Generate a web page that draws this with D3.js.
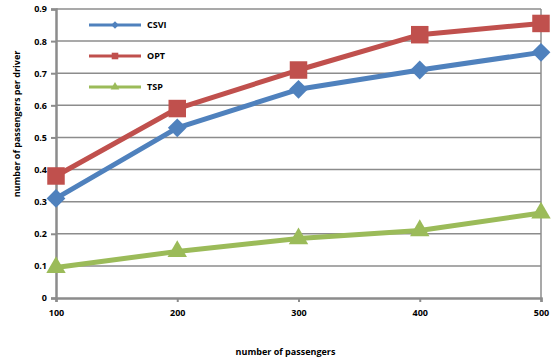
<!DOCTYPE html>
<html>
<head>
<meta charset="utf-8">
<script src="https://cdn.jsdelivr.net/npm/d3@7"></script>
<style>
  html, body { margin: 0; padding: 0; background: #fff; }
  svg { display: block; }
  text { font-family: "Open Sans", "Liberation Sans", sans-serif; font-weight: bold; fill: #000; }
</style>
</head>
<body>
<svg id="chart" width="553" height="362"></svg>
<script>
// Passenger counts on the x axis
const passengers = [100, 200, 300, 400, 500];
// Average passengers served per driver, one array per method
const csvi = [0.31, 0.53, 0.65, 0.71, 0.765];
const opt  = [0.38, 0.59, 0.71, 0.82, 0.855];
const tsp  = [0.095, 0.145, 0.185, 0.21, 0.265];
const seriesNames = ["CSVI", "OPT", "TSP"];
const yTicks = [0, 0.1, 0.2, 0.3, 0.4, 0.5, 0.6, 0.7, 0.8, 0.9];

const colors = { CSVI: "#4F81BD", OPT: "#C0504D", TSP: "#9BBB59" };
const symbols = { CSVI: d3.symbolDiamond2, OPT: d3.symbolSquare2, TSP: d3.symbolTriangle2 };
const markerSize = { CSVI: 225, OPT: 390, TSP: 270 };
const values = { CSVI: csvi, OPT: opt, TSP: tsp };

const svg = d3.select("#chart");
const plotLeft = 56, plotRight = 541, plotTop = 9, plotBottom = 298;

const x = d3.scaleLinear().domain([100, 500]).range([plotLeft, plotRight]);
const y = d3.scaleLinear().domain([0, 0.9]).range([plotBottom, plotTop]);

// Horizontal gridlines
svg.append("g").selectAll("line").data(yTicks.filter(d => d > 0)).join("line")
  .attr("x1", plotLeft).attr("x2", plotRight)
  .attr("y1", d => y(d)).attr("y2", d => y(d))
  .attr("stroke", "#8c8c8c").attr("stroke-width", 1.5);

// Right border of the plot area
svg.append("line").attr("x1", plotRight).attr("x2", plotRight).attr("y1", plotTop).attr("y2", plotBottom)
  .attr("stroke", "#8c8c8c").attr("stroke-width", 1.5);

// Y axis
const yAxis = svg.append("g").attr("transform", `translate(${plotLeft},0)`)
  .call(d3.axisLeft(y).tickValues(yTicks).tickFormat(d => d === 0 ? "0" : d3.format(".1f")(d)).tickSize(5).tickPadding(4));
// X axis
const xAxis = svg.append("g").attr("transform", `translate(0,${plotBottom})`)
  .call(d3.axisBottom(x).tickValues(passengers).tickSize(4).tickPadding(6));
[yAxis, xAxis].forEach(g => {
  g.select(".domain").attr("stroke", "#8c8c8c").attr("stroke-width", 2.5);
  g.selectAll(".tick line").attr("stroke", "#8c8c8c").attr("stroke-width", 2);
  g.selectAll(".tick text").style("font-family", "'Open Sans', sans-serif").style("font-weight", "bold")
    .style("font-size", "9px").attr("fill", "#000");
});
xAxis.selectAll(".tick text").attr("dy", "0.9em");

// Series lines and markers
const line = d3.line().x((d, i) => x(passengers[i])).y(d => y(d));
seriesNames.slice().reverse().forEach(name => {
  const g = svg.append("g");
  g.append("path").datum(values[name]).attr("d", line)
    .attr("fill", "none").attr("stroke", colors[name]).attr("stroke-width", 5)
    .attr("stroke-linejoin", "round");
  g.selectAll("path.m").data(values[name]).join("path").attr("class", "m")
    .attr("transform", (d, i) => `translate(${x(passengers[i])},${y(d)})`)
    .attr("d", d3.symbol().type(symbols[name]).size(markerSize[name]))
    .attr("fill", colors[name]);
});

// Legend
const legendY = [25, 56, 87];
seriesNames.forEach((name, i) => {
  const g = svg.append("g").attr("transform", `translate(89,${legendY[i]})`);
  g.append("line").attr("x1", 0).attr("x2", 52).attr("stroke", colors[name]).attr("stroke-width", 3);
  g.append("path").attr("transform", "translate(26,0)")
    .attr("d", d3.symbol().type(symbols[name]).size(name === "CSVI" ? 35 : 55)).attr("fill", colors[name]);
  g.append("text").attr("x", 58).attr("dy", "0.35em").style("font-size", "9px").text(name);
});

// Axis titles
svg.append("text").attr("x", (plotLeft + plotRight) / 2 - 13).attr("y", 355).attr("text-anchor", "middle")
  .style("font-size", "9px").text("number of passengers");
svg.append("text").attr("transform", "translate(20,124) rotate(-90)").attr("text-anchor", "middle")
  .style("font-size", "9px").text("number of passengers per driver");
</script>
</body>
</html>
